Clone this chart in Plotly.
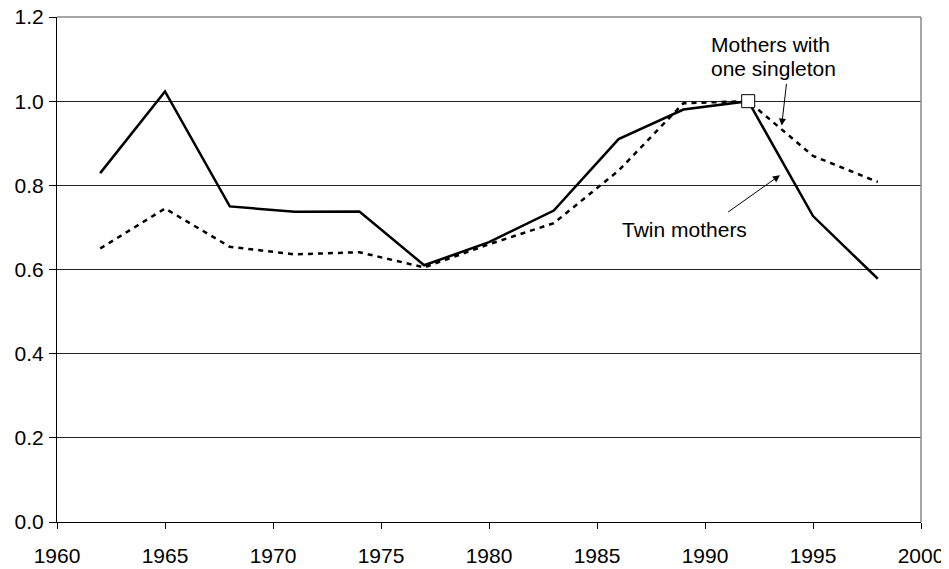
import plotly.graph_objects as go

years = [1962, 1965, 1968, 1971, 1974, 1977, 1980, 1983, 1986, 1989, 1992, 1995, 1998]
twin_mothers = [0.829, 1.023, 0.750, 0.737, 0.738, 0.610, 0.665, 0.740, 0.910, 0.980, 1.000, 0.727, 0.578]
singleton_mothers = [0.650, 0.745, 0.654, 0.636, 0.641, 0.605, 0.660, 0.710, 0.835, 0.995, 1.000, 0.870, 0.808]
x_ticks = [1960, 1965, 1970, 1975, 1980, 1985, 1990, 1995, 2000]
y_ticks = [0.0, 0.2, 0.4, 0.6, 0.8, 1.0, 1.2]
ref_year = 1992
ref_value = 1.0

font = "Liberation Sans, Arial, sans-serif"
FS = 21

fig = go.Figure()
fig.add_trace(go.Scatter(x=years, y=singleton_mothers, mode="lines",
                         line=dict(color="black", width=2.5, dash="5px,5px"),
                         name="Mothers with one singleton"))
fig.add_trace(go.Scatter(x=years, y=twin_mothers, mode="lines",
                         line=dict(color="black", width=2.5),
                         name="Twin mothers"))
fig.add_trace(go.Scatter(x=[ref_year], y=[ref_value], mode="markers",
                         marker=dict(symbol="square", size=13, color="white",
                                     line=dict(color="black", width=1)),
                         showlegend=False))

# page body has an 8px margin, so the figure is 8px smaller and shifted
fig.update_layout(
    width=941, height=561,
    margin=dict(l=49, r=28, t=9, b=47),
    plot_bgcolor="white", paper_bgcolor="white",
    showlegend=False,
    font=dict(family=font, size=FS, color="black"),
    xaxis=dict(range=[1960, 2000], tickvals=x_ticks, ticks="outside", ticklen=6,
               tickcolor="black", showline=True, linecolor="black", linewidth=1,
               showgrid=False, zeroline=False, tickfont=dict(size=FS),
               ticklabelstandoff=9, automargin=False, ticklabeloverflow="allow"),
    yaxis=dict(range=[0, 1.2], tickvals=y_ticks, tickformat=".1f", ticks="outside",
               ticklen=7, tickcolor="black", showline=True, linecolor="black",
               linewidth=1, showgrid=True, gridcolor="#222222", gridwidth=1,
               zeroline=False, tickfont=dict(size=FS), ticklabelstandoff=1,
               automargin=False, ticklabeloverflow="allow"),
)

fig.add_shape(type="line", xref="paper", yref="paper", x0=1, x1=1, y0=0, y1=1,
              line=dict(color="#888888", width=1.5))
fig.add_shape(type="line", xref="paper", yref="paper", x0=0, x1=1, y0=1, y1=1,
              line=dict(color="#888888", width=1.5))

fig.add_annotation(x=1990.2, y=1.134, text="Mothers with", showarrow=False,
                   xanchor="left", font=dict(size=FS, family=font))
fig.add_annotation(x=1990.2, y=1.078, text="one singleton", showarrow=False,
                   xanchor="left", font=dict(size=FS, family=font))
fig.add_annotation(x=1993.55, y=0.942, ax=1993.78, ay=1.045, axref="x", ayref="y",
                   showarrow=True, arrowhead=2, arrowsize=1.4, arrowwidth=1, arrowcolor="black", text="")
fig.add_annotation(x=1989.05, y=0.696, text="Twin mothers", showarrow=False,
                   font=dict(size=FS, family=font))
fig.add_annotation(x=1993.47, y=0.824, ax=1991.0, ay=0.734, axref="x", ayref="y",
                   showarrow=True, arrowhead=2, arrowsize=1.4, arrowwidth=1, arrowcolor="black", text="")

fig.write_html("out.html")
